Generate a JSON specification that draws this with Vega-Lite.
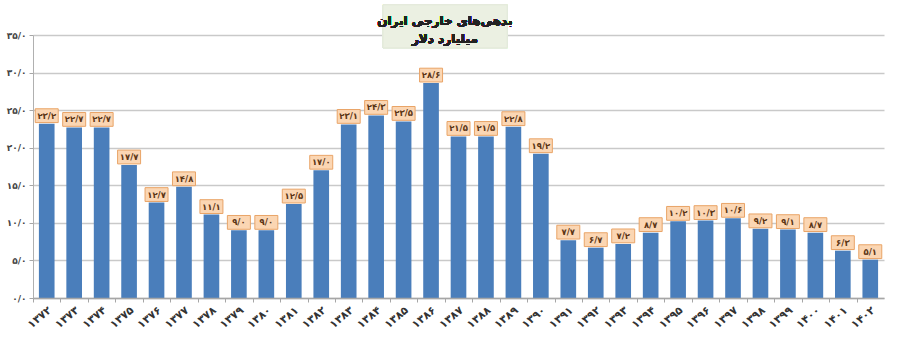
{
  "$schema": "https://vega.github.io/schema/vega-lite/v6.json",
  "autosize": "none",
  "width": 851,
  "height": 263,
  "padding": {"left": 33, "top": 35, "right": 16, "bottom": 54},
  "background": "white",
  "config": {"view": {"stroke": null}, "font": "DejaVu Sans"},
  "data": {"values": [
    {"year": "۱۳۷۲", "debt": 23.2, "label": "۲۳/۲"},
    {"year": "۱۳۷۳", "debt": 22.7, "label": "۲۲/۷"},
    {"year": "۱۳۷۴", "debt": 22.7, "label": "۲۲/۷"},
    {"year": "۱۳۷۵", "debt": 17.7, "label": "۱۷/۷"},
    {"year": "۱۳۷۶", "debt": 12.7, "label": "۱۲/۷"},
    {"year": "۱۳۷۷", "debt": 14.8, "label": "۱۴/۸"},
    {"year": "۱۳۷۸", "debt": 11.1, "label": "۱۱/۱"},
    {"year": "۱۳۷۹", "debt": 9.0, "label": "۹/۰"},
    {"year": "۱۳۸۰", "debt": 9.0, "label": "۹/۰"},
    {"year": "۱۳۸۱", "debt": 12.5, "label": "۱۲/۵"},
    {"year": "۱۳۸۲", "debt": 17.0, "label": "۱۷/۰"},
    {"year": "۱۳۸۳", "debt": 23.1, "label": "۲۳/۱"},
    {"year": "۱۳۸۴", "debt": 24.3, "label": "۲۴/۳"},
    {"year": "۱۳۸۵", "debt": 23.5, "label": "۲۳/۵"},
    {"year": "۱۳۸۶", "debt": 28.6, "label": "۲۸/۶"},
    {"year": "۱۳۸۷", "debt": 21.5, "label": "۲۱/۵"},
    {"year": "۱۳۸۸", "debt": 21.5, "label": "۲۱/۵"},
    {"year": "۱۳۸۹", "debt": 22.8, "label": "۲۲/۸"},
    {"year": "۱۳۹۰", "debt": 19.2, "label": "۱۹/۲"},
    {"year": "۱۳۹۱", "debt": 7.7, "label": "۷/۷"},
    {"year": "۱۳۹۲", "debt": 6.7, "label": "۶/۷"},
    {"year": "۱۳۹۳", "debt": 7.2, "label": "۷/۲"},
    {"year": "۱۳۹۴", "debt": 8.7, "label": "۸/۷"},
    {"year": "۱۳۹۵", "debt": 10.2, "label": "۱۰/۲"},
    {"year": "۱۳۹۶", "debt": 10.3, "label": "۱۰/۳"},
    {"year": "۱۳۹۷", "debt": 10.6, "label": "۱۰/۶"},
    {"year": "۱۳۹۸", "debt": 9.2, "label": "۹/۲"},
    {"year": "۱۳۹۹", "debt": 9.1, "label": "۹/۱"},
    {"year": "۱۴۰۰", "debt": 8.7, "label": "۸/۷"},
    {"year": "۱۴۰۱", "debt": 6.3, "label": "۶/۳"},
    {"year": "۱۴۰۲", "debt": 5.1, "label": "۵/۱"}
  ]},
  "encoding": {
    "x": {
      "field": "year", "type": "nominal", "sort": null,
      "scale": {
        "domain": ["۱۳۷۲","۱۳۷۳","۱۳۷۴","۱۳۷۵","۱۳۷۶","۱۳۷۷","۱۳۷۸","۱۳۷۹","۱۳۸۰","۱۳۸۱","۱۳۸۲","۱۳۸۳","۱۳۸۴","۱۳۸۵","۱۳۸۶","۱۳۸۷","۱۳۸۸","۱۳۸۹","۱۳۹۰","۱۳۹۱","۱۳۹۲","۱۳۹۳","۱۳۹۴","۱۳۹۵","۱۳۹۶","۱۳۹۷","۱۳۹۸","۱۳۹۹","۱۴۰۰","۱۴۰۱","۱۴۰۲"],
        "paddingInner": 0.43, "paddingOuter": 0.215
      },
      "axis": {
        "title": null, "bandPosition": 0, "tickOffset": -5.9, "labelOffset": 5,
        "labelAngle": -40, "labelAlign": "right", "labelBaseline": "top",
        "labelFontSize": 11, "labelFontWeight": "bold", "labelColor": "#333333",
        "labelPadding": 2,
        "domainColor": "#a6a6a6", "domainWidth": 1.5,
        "tickColor": "#a6a6a6", "tickSize": 4, "tickWidth": 1
      }
    },
    "y": {
      "field": "debt", "type": "quantitative",
      "scale": {"domain": [0, 35], "nice": false},
      "axis": {
        "title": null, "values": [0, 5, 10, 15, 20, 25, 30, 35],
        "labelExpr": "datum.value == 0 ? '۰/۰' : datum.value == 5 ? '۵/۰' : datum.value == 10 ? '۱۰/۰' : datum.value == 15 ? '۱۵/۰' : datum.value == 20 ? '۲۰/۰' : datum.value == 25 ? '۲۵/۰' : datum.value == 30 ? '۳۰/۰' : '۳۵/۰'",
        "labelFontSize": 9, "labelFontWeight": "bold", "labelColor": "#444444", "labelPadding": 3,
        "grid": true, "gridColor": "#c9c9c9", "gridWidth": 1.5,
        "domainColor": "#b0b0b0", "domainWidth": 1,
        "tickColor": "#a6a6a6", "tickSize": 4
      }
    }
  },
  "layer": [
    {
      "mark": {"type": "rect", "fill": "#ebf0e2", "stroke": "#e4eadb"},
      "encoding": {
        "x": {"datum": "۱۳۸۴", "bandPosition": 0.94},
        "x2": {"datum": "۱۳۸۹", "bandPosition": 0.1},
        "y": {"datum": 39},
        "y2": {"datum": 33.3}
      }
    },
    {
      "mark": {"type": "text", "text": "بدهی‌های خارجی ایران", "fontSize": 12, "fontWeight": "bold", "color": "#222222", "baseline": "middle", "align": "center", "dx": 6},
      "encoding": {
        "x": {"datum": "۱۳۸۶", "bandPosition": 1},
        "y": {"datum": 36.9}
      }
    },
    {
      "mark": {"type": "text", "text": "میلیارد دلار", "fontSize": 12, "fontWeight": "bold", "color": "#222222", "baseline": "middle", "align": "center", "dx": 6},
      "encoding": {
        "x": {"datum": "۱۳۸۶", "bandPosition": 1},
        "y": {"datum": 34.5}
      }
    },
    {
      "mark": {"type": "bar", "color": "#4a7ebb"}
    },
    {
      "mark": {"type": "point", "shape": "M-1,-0.6L1,-0.6L1,0.6L-1,0.6Z", "size": 529, "filled": true, "fill": "#fbd6b3", "stroke": "#e9a467", "strokeWidth": 1, "opacity": 1, "yOffset": -8}
    },
    {
      "mark": {"type": "text", "fontSize": 8.5, "fontWeight": "bold", "color": "#5b3515", "baseline": "middle", "yOffset": -8},
      "encoding": {"text": {"field": "label"}}
    }
  ]
}
